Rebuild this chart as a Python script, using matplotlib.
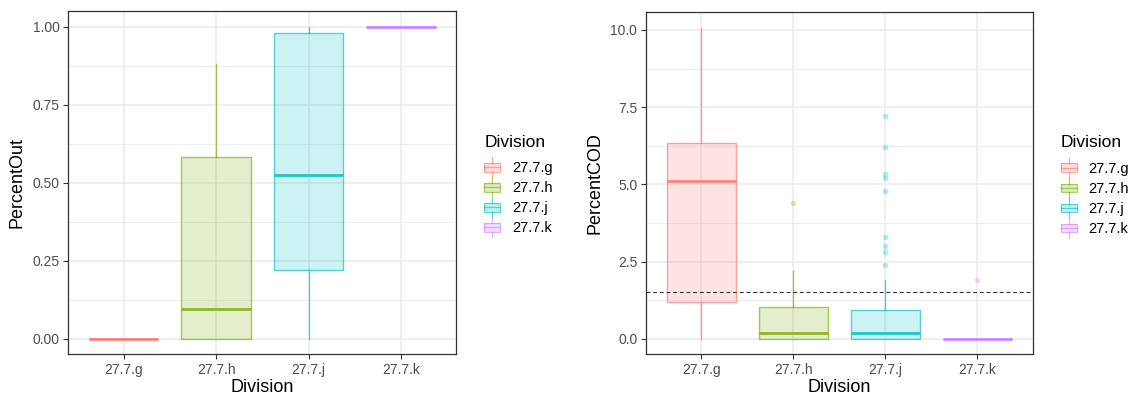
import matplotlib.pyplot as plt
from matplotlib.patches import Rectangle, Patch
from matplotlib.lines import Line2D
from matplotlib.legend_handler import HandlerBase
from matplotlib.ticker import AutoMinorLocator, FixedLocator
from matplotlib.colors import to_rgb

plt.rcParams['font.family'] = ['Liberation Sans', 'DejaVu Sans']

divisions = ['27.7.g', '27.7.h', '27.7.j', '27.7.k']
colors = ['#F8766D', '#7CAE00', '#00BFC4', '#C77CFF']

# PercentOut box summaries
out_whislo = [0.0, 0.0, 0.0, 1.0]
out_q1 = [0.0, 0.0, 0.22, 1.0]
out_med = [0.0, 0.096, 0.526, 1.0]
out_q3 = [0.0, 0.582, 0.979, 1.0]
out_whishi = [0.0, 0.88, 1.0, 1.0]
out_fliers = [[], [], [], []]

# PercentCOD box summaries
cod_whislo = [0.0, 0.0, 0.0, 0.0]
cod_q1 = [1.18, 0.0, 0.0, 0.0]
cod_med = [5.10, 0.19, 0.2, 0.0]
cod_q3 = [6.35, 1.04, 0.93, 0.0]
cod_whishi = [10.07, 2.19, 1.89, 0.0]
cod_fliers = [[], [4.4], [7.2, 6.2, 5.33, 5.2, 4.8, 3.3, 3.0, 2.8, 2.39], [1.91]]
cod_threshold = 1.5


class BoxKey(HandlerBase):
    def create_artists(self, legend, orig_handle, xdescent, ydescent,
                       width, height, fontsize, trans):
        c = orig_handle.get_edgecolor()
        bh = height * 0.62
        y0 = -ydescent + (height - bh) / 2
        x0 = -xdescent
        box = Rectangle((x0, y0), width, bh, facecolor=c, alpha=0.25,
                        edgecolor='none', transform=trans)
        edge = Rectangle((x0, y0), width, bh, facecolor='none', edgecolor=c,
                         lw=0.9, alpha=0.6, transform=trans)
        med = Line2D([x0, x0 + width], [y0 + bh / 2] * 2, color=c, lw=0.9,
                     alpha=0.6, transform=trans)
        wlo = Line2D([x0 + width / 2] * 2, [-ydescent - 2, y0], color=c,
                     lw=0.9, alpha=0.6, transform=trans)
        whi = Line2D([x0 + width / 2] * 2, [y0 + bh, -ydescent + height + 2],
                     color=c, lw=0.9, alpha=0.6, transform=trans)
        return [box, edge, med, wlo, whi]


def draw_panel(ax, whislo, q1, med, q3, whishi, fliers, ylabel, ylim, yticks, yticklabels):
    stats = []
    for i in range(len(divisions)):
        stats.append(dict(whislo=whislo[i], q1=q1[i], med=med[i], q3=q3[i],
                          whishi=whishi[i], fliers=fliers[i], label=divisions[i]))
    art = ax.bxp(stats, positions=range(1, 5), widths=0.75, patch_artist=True,
                 showcaps=False, manage_ticks=False)
    for i, c in enumerate(colors):
        b = art['boxes'][i]
        b.set_facecolor((*to_rgb(c), 0.2))
        b.set_edgecolor((*to_rgb(c), 0.65))
        b.set_linewidth(1.0)
        art['medians'][i].set(color=c, lw=2.0, alpha=0.85)
        for w in art['whiskers'][2 * i:2 * i + 2]:
            w.set(color=c, lw=1.0, alpha=0.7)
        art['fliers'][i].set(marker='o', markersize=4, markerfacecolor=c,
                             markeredgecolor='none', alpha=0.3)

    ax.set_xlim(0.4, 4.6)
    ax.set_ylim(*ylim)
    ax.xaxis.set_major_locator(FixedLocator(range(1, 5)))
    ax.set_xticklabels(divisions)
    ax.set_yticks(yticks)
    ax.set_yticklabels(yticklabels)
    ax.yaxis.set_minor_locator(AutoMinorLocator(2))
    ax.set_axisbelow(True)
    ax.grid(True, which='major', color='#EBEBEB', lw=1.1)
    ax.grid(True, which='minor', axis='y', color='#EBEBEB', lw=0.6)
    ax.tick_params(which='major', length=3.3, width=0.8, color='#333333',
                   labelcolor='#4D4D4D', labelsize=10, pad=3)
    ax.tick_params(which='minor', length=0)
    for s in ax.spines.values():
        s.set_color('#333333')
        s.set_linewidth(0.9)
    ax.set_xlabel('Division', fontsize=13, labelpad=1.5)
    ax.set_ylabel(ylabel, fontsize=13, labelpad=5)

    handles = [Patch(facecolor=c, edgecolor=c) for c in colors]
    leg = ax.legend(handles, divisions, title='Division', loc='center left',
                    bbox_to_anchor=(1.072, 0.493), frameon=False, borderpad=0,
                    borderaxespad=0, fontsize=10.5, title_fontsize=12.5,
                    handler_map={Patch: BoxKey()}, handlelength=1.1,
                    handleheight=1.1, handletextpad=0.8, labelspacing=0.35,
                    alignment='left')
    leg._legend_box.sep = 7.5


fig = plt.figure(figsize=(11.31, 3.99), dpi=100)
ax1 = fig.add_axes([0.0604, 0.112, 0.3431, 0.8604])
ax2 = fig.add_axes([0.5712, 0.112, 0.3419, 0.8572])

draw_panel(ax1, out_whislo, out_q1, out_med, out_q3, out_whishi, out_fliers,
           'PercentOut', (-0.05, 1.05), [0, 0.25, 0.5, 0.75, 1.0],
           ['0.00', '0.25', '0.50', '0.75', '1.00'])
draw_panel(ax2, cod_whislo, cod_q1, cod_med, cod_q3, cod_whishi, cod_fliers,
           'PercentCOD', (-0.5035, 10.57), [0, 2.5, 5, 7.5, 10],
           ['0.0', '2.5', '5.0', '7.5', '10.0'])
ax2.axhline(cod_threshold, color='#333333', lw=0.8, ls=(0, (3.5, 2.5)))

fig.savefig('out.png', dpi=100)
